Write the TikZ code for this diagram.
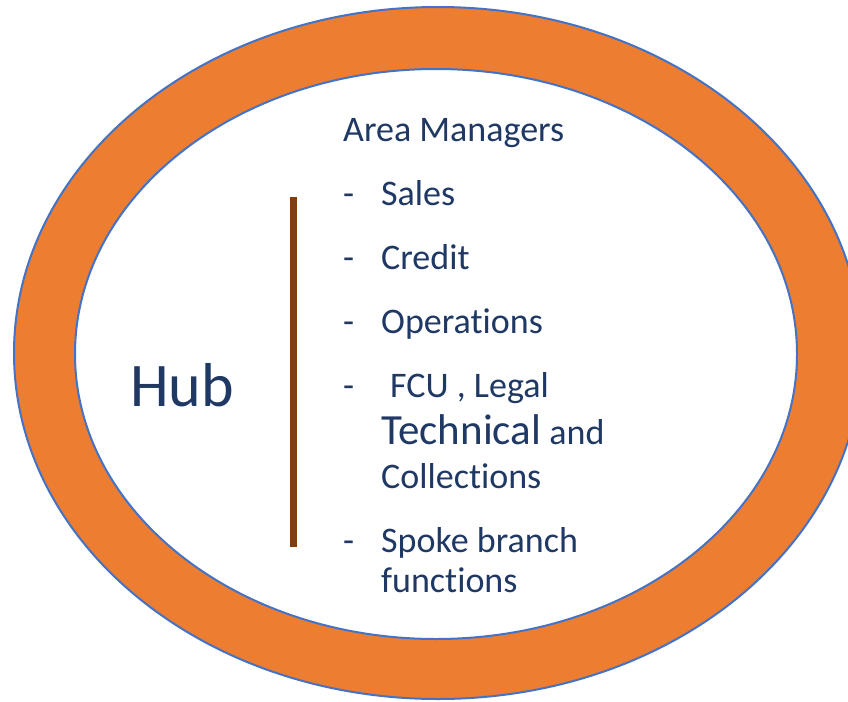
\documentclass[tikz,border=0pt]{standalone}
\usepackage{fontspec}
\setmainfont{Carlito}[Ligatures={NoCommon}]
\definecolor{ringorange}{HTML}{ED7D31}
\definecolor{ringblue}{HTML}{4472C4}
\definecolor{txtblue}{HTML}{1F3864}
\definecolor{barbrown}{HTML}{843C0C}
\begin{document}
\begin{tikzpicture}[x=1pt,y=-1pt,
  item/.style={anchor=base west,inner sep=0pt,text=txtblue,font=\fontsize{36}{40}\selectfont},
  dashmark/.style={anchor=base west,inner sep=0pt,text=txtblue,font=\fontsize{36}{40}\selectfont}]
\useasboundingbox (0,0) rectangle (848,701);
\clip (0,0) rectangle (848,701);
\fill[white] (0,0) rectangle (848,701);
\draw[ringblue,line width=2pt,fill=ringorange] (438,353) ellipse [x radius=424, y radius=346];
\draw[ringblue,line width=2pt,fill=white] (436,354) ellipse [x radius=361, y radius=285];
\fill[barbrown] (290,197) rectangle (297,547);
\coordinate (bartop) at (293.5,197);
\node[anchor=base west,inner sep=0pt,text=txtblue,font=\fontsize{62}{70}\selectfont] (hub) at (130,406) {Hub};
\node[item] (area) at (343,141) {Area Managers};
\node[dashmark] (d1) at (343,205) {-};
\node[item] (sales) at (381,205) {Sales};
\node[dashmark] (d2) at (343,269) {-};
\node[item] (credit) at (381,269) {Credit};
\node[dashmark] (d3) at (343,333) {-};
\node[item] (ops) at (381,333) {Operations};
\node[dashmark] (d4) at (343,397) {-};
\node[item] (fcu) at (390,397) {FCU , Legal};
\node[item] (tech) at (381,444) {{\fontsize{43}{48}\selectfont Technical} and};
\node[item] (coll) at (381,488) {Collections};
\node[dashmark] (d5) at (343,552) {-};
\node[item] (spoke) at (381,552) {Spoke branch};
\node[item] (func) at (381,592) {functions};
\end{tikzpicture}
\end{document}
